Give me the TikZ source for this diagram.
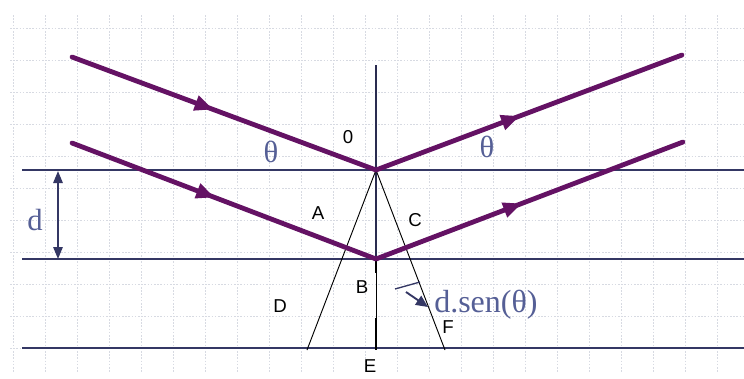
\documentclass[tikz,border=0pt]{standalone}
\usepackage{fontspec}
\setmainfont{Liberation Serif}
\setsansfont{Liberation Sans}
\usetikzlibrary{arrows.meta,decorations.markings}
\definecolor{raycol}{RGB}{100,18,100}
\definecolor{planecol}{RGB}{52,55,100}
\definecolor{lblcol}{RGB}{85,95,150}
\definecolor{gridcol}{RGB}{215,218,226}
\tikzset{
  raypath/.style={raycol, line width=3.6pt, line cap=round, postaction={decorate},
    decoration={markings, mark=at position #1 with {\arrow{Triangle[length=14pt,width=11pt]}}}},
  planeline/.style={planecol, line width=1.5pt},
  axisline/.style={planecol!80!black, line width=1pt},
  thinline/.style={black, line width=0.7pt},
  gridline/.style={gridcol, line width=0.6pt, dash pattern=on 1.2pt off 1.2pt},
  ptlabel/.style={font=\sffamily\fontsize{14}{14}\selectfont, inner sep=0pt},
  greeklabel/.style={lblcol, font=\fontsize{23}{23}\selectfont, inner sep=0pt},
}
\begin{document}
\begin{tikzpicture}[x=0.75pt,y=-0.75pt]
\useasboundingbox (0,0) rectangle (744,379);
\fill[white] (0,0) rectangle (744,379);
% background grid
\foreach \gx in {13,45,...,744} \draw[gridline] (\gx,15) -- (\gx,372);
\foreach \gy in {28,60,...,372} \draw[gridline] (10,\gy) -- (744,\gy);
% coordinates
\coordinate (O) at (376,170);
\coordinate (Bp) at (376,259);
\coordinate (top) at (376,65);
\coordinate (bot) at (376,350);
\coordinate (Dend) at (307,350);
\coordinate (Fend) at (445,350);
\coordinate (L1a) at (22,170); \coordinate (L1b) at (744,170);
\coordinate (L2a) at (22,259); \coordinate (L2b) at (744,259);
\coordinate (L3a) at (22,348); \coordinate (L3b) at (744,348);
\coordinate (in1) at (72,57);
\coordinate (in2) at (72,143);
\coordinate (out1) at (682,55);
\coordinate (out2) at (683,142);
\coordinate (dtop) at (58,171);
\coordinate (dbot) at (58,259);
\coordinate (tickA) at (395,289);
\coordinate (tickB) at (420,282);
\coordinate (sarrA) at (406,292);
\coordinate (sarrB) at (428,307);
% planes
\draw[planeline] (L1a) -- (L1b);
\draw[planeline] (L2a) -- (L2b);
\draw[planeline] (L3a) -- (L3b);
% normal
\draw[axisline] (top) -- (Bp);
\draw[thinline] (Bp) -- (bot);
\draw[black, line width=1.8pt] (376,260) -- (376,273);
\draw[black, line width=1.8pt] (376,318) -- (376,350);
% triangle
\draw[thinline] (O) -- (Dend);
\draw[thinline] (O) -- (Fend);
% rays
\draw[raypath=0.465] (in1) -- (O);
\draw[raypath=0.47] (in2) -- (Bp);
\draw[raypath=0.47] (O) -- (out1);
\draw[raypath=0.475] (Bp) -- (out2);
% d arrow
\draw[planecol, line width=1.4pt, {Triangle[length=9pt,width=7pt]}-{Triangle[length=9pt,width=7pt]}] (dtop) -- (dbot);
% small arrow
\draw[planecol, line width=1pt] (tickA) -- (tickB);
\draw[planecol, line width=1.4pt, -{Triangle[length=9pt,width=8pt]}] (sarrA) -- (sarrB);
% labels
\node[ptlabel] (lO) at (348,137) {0};
\node[ptlabel] (lA) at (318,213) {A};
\node[ptlabel] (lC) at (415,220) {C};
\node[ptlabel] (lB) at (362,287) {B};
\node[ptlabel] (lD) at (280,306) {D};
\node[ptlabel] (lE) at (370,366) {E};
\node[ptlabel] (lF) at (448,327) {F};
\node[greeklabel] (th1) at (271,152) {θ};
\node[greeklabel] (th2) at (487,147) {θ};
\node[greeklabel] (ld) at (35,220) {d};
\node[greeklabel, anchor=west, font=\fontsize{24}{24}\selectfont] (ldsen) at (434,305) {d.sen(θ)};
\end{tikzpicture}
\end{document}
